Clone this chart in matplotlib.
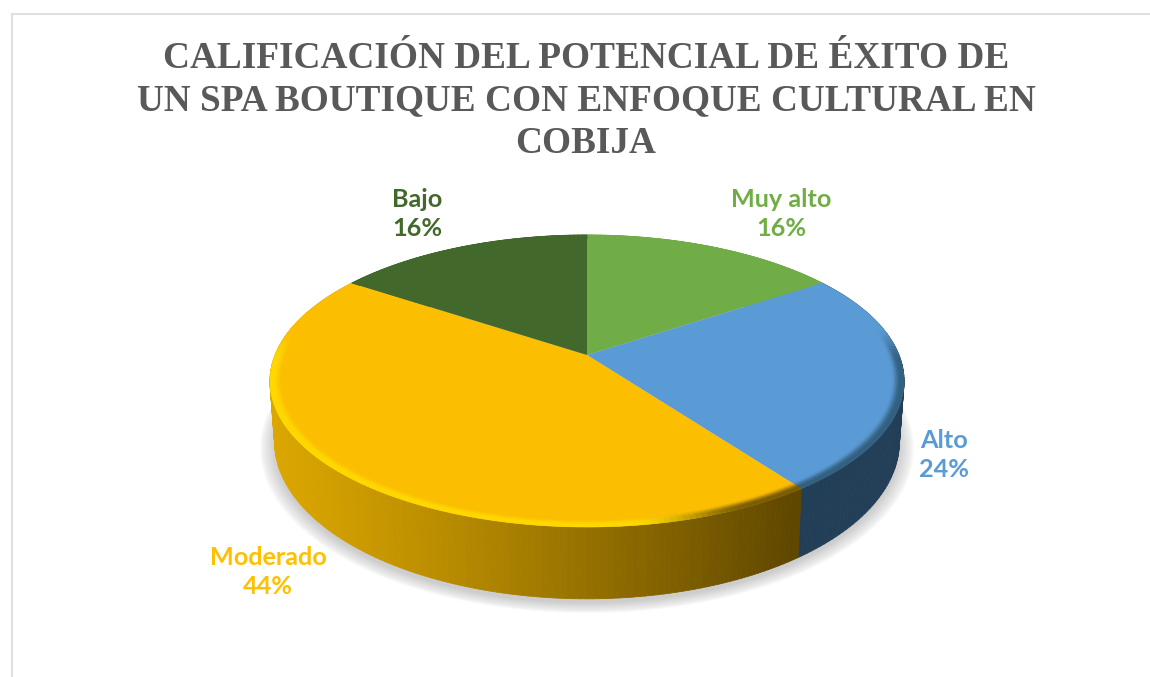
import numpy as np
import matplotlib
matplotlib.use("Agg")
import matplotlib.pyplot as plt
from matplotlib.collections import PolyCollection
from matplotlib.colors import to_rgb
from matplotlib.path import Path
from matplotlib.transforms import Transform

categories = ["Muy alto", "Alto", "Moderado", "Bajo"]
values = [16, 24, 44, 16]
top_colors = ["#70AD47", "#5B9BD5", "#FBBE00", "#43682B"]
label_colors = ["#70AD47", "#5B9BD5", "#FFC000", "#43682B"]
side_left = ["#70AD47", "#233F57", "#DBA600", "#43682B"]
side_right = ["#70AD47", "#233F57", "#5F4700", "#43682B"]
rim_light = ["#8CC864", "#3A6A96", "#FFD900", "#5A8240"]
rim_dark = ["#4D7A30", "#33607F", "#7A5C00", "#2E4A1E"]
title = ("CALIFICACIÓN DEL POTENCIAL DE ÉXITO DE\n"
         "UN SPA BOUTIQUE CON ENFOQUE CULTURAL EN\nCOBIJA")
label_pos = [(781, 214), (944, 455), (268, 572), (417, 214)]

W, H = 1150, 677
CX, CY, A, B, K = 587.0, 355.0, 141.4, 312.0, 0.178
DEPTH, SHRINK = 59.0, 0.985
WARP = np.radians(1.77)


def project(u, v):
    u, v = np.asarray(u, float), np.asarray(v, float)
    r = np.hypot(u, v)
    t = np.arctan2(u, v)
    t = t - WARP * np.sin(2 * t) * (v > 0)
    u, v = r * np.sin(t), r * np.cos(t)
    f = 1 + K * v
    return CX + B * u / f, CY - A * v / f


class Perspective(Transform):
    input_dims = output_dims = 2
    is_separable = False
    has_inverse = False

    def transform_non_affine(self, xy):
        xy = np.asarray(xy, float)
        x, y = project(xy[:, 0], xy[:, 1])
        return np.column_stack([x, y])

    def transform_path_non_affine(self, path):
        return Path(self.transform_non_affine(path.vertices), path.codes)


def unit(t):
    return np.sin(t), np.cos(t)


def lower(u, v):
    x, y = project(u, v)
    return CX + (x - CX) * SHRINK, y + DEPTH / (1 + K * np.asarray(v))


def mix(a, b, w):
    a, b = np.array(to_rgb(a)), np.array(to_rgb(b))
    return a * (1 - w) + b * w


def smooth(x, lo, hi):
    s = np.clip((x - lo) / (hi - lo), 0, 1)
    return s * s * (3 - 2 * s)


fig = plt.figure(figsize=(W / 100, H / 100), dpi=100, facecolor="white")
ax = fig.add_axes([0, 0, 1, 1])

wedges, _ = ax.pie(values, colors=top_colors, startangle=90, counterclock=False,
                   radius=1, wedgeprops={"linewidth": 0})
ax.set_aspect("auto")
ax.set_xlim(0, W)
ax.set_ylim(H, 0)
ax.set_axis_off()
tr = Perspective() + ax.transData
for w in wedges:
    w.set_transform(tr)
    w.set_zorder(5)

# soft shadow under the disc
ts = np.linspace(0, 2 * np.pi, 361)
for i in range(22):
    grow = 1.0 + 0.0022 * i
    su, sv = unit(ts)
    sx, sy = lower(su * grow, sv * grow)
    ax.fill(sx, sy + 4, color="#707070", alpha=0.014, lw=0, zorder=1)

# side wall and bevelled rim, slice by slice
edges = np.radians(np.cumsum([0] + values) / sum(values) * 360)
rings = np.linspace(0.962, 1.0, 10)
for i in range(len(values)):
    n = max(int(np.degrees(edges[i + 1] - edges[i])), 2)
    t = np.linspace(edges[i], edges[i + 1], n + 1)
    u, v = unit(t)
    xt, yt = project(u, v)
    xb, yb = lower(u, v)
    quads, cols = [], []
    for j in range(n):
        quads.append([(xt[j], yt[j]), (xt[j + 1], yt[j + 1]),
                      (xb[j + 1], yb[j + 1]), (xb[j], yb[j])])
        px = np.clip(((xt[j] + xt[j + 1]) / 2 - 272) / (795 - 272), 0, 1)
        cols.append(mix(side_left[i], side_right[i], px ** 1.15))
    ax.add_collection(PolyCollection(quads, facecolors=cols, edgecolors=cols,
                                     linewidths=0.6, zorder=3))
    quads, cols = [], []
    for r0, r1 in zip(rings[:-1], rings[1:]):
        rm = (r0 + r1) / 2
        prof = smooth(rm, 0.962, 0.99)
        for j in range(n):
            x0, y0 = project(u[j] * r0, v[j] * r0)
            x1, y1 = project(u[j + 1] * r0, v[j + 1] * r0)
            x2, y2 = project(u[j + 1] * r1, v[j + 1] * r1)
            x3, y3 = project(u[j] * r1, v[j] * r1)
            um, vm = (u[j] + u[j + 1]) / 2, (v[j] + v[j + 1]) / 2
            vis = smooth(-vm, -0.2, 0.05)
            base = to_rgb(top_colors[i])
            rim = mix(rim_light[i], rim_dark[i], smooth(um, 0.12, 0.45))
            quads.append([(x0, y0), (x1, y1), (x2, y2), (x3, y3)])
            cols.append(mix(base, rim, float(vis * prof)))
    ax.add_collection(PolyCollection(quads, facecolors=cols, edgecolors=cols,
                                     linewidths=0.4, zorder=6))

# chart frame (top and left edges only are visible)
ax.plot([12, 12, W], [H, 14, 14], color="#DFDFDF", lw=1.5, zorder=0,
        solid_joinstyle="miter")

ax.text(586, 101, title, ha="center", va="center", color="#595959",
        family="Liberation Serif", weight="bold", fontsize=26.85, linespacing=1.27,
        zorder=8)

for name, val, col, (lx, ly) in zip(categories, values, label_colors, label_pos):
    ax.text(lx, ly, f"{name}\n{val}%", ha="center", va="center", color=col,
            family="Lato", weight="bold", fontsize=18.2, linespacing=1.32, zorder=8)

fig.savefig("out.png", dpi=100)
